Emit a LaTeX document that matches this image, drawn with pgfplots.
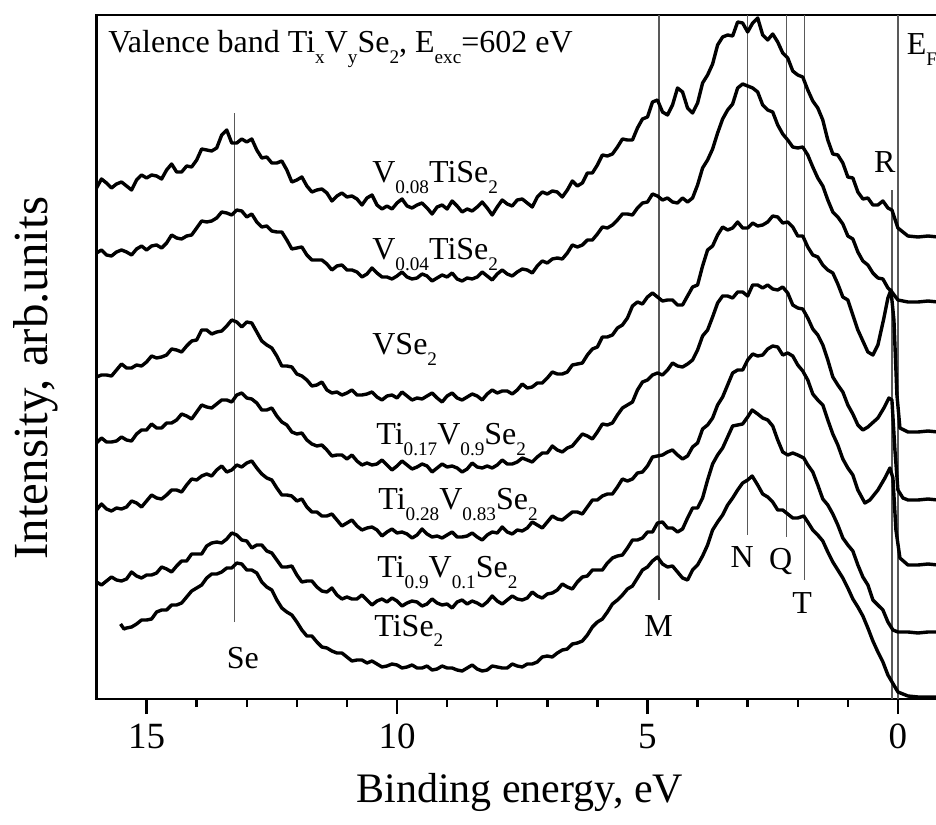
\documentclass[border=0pt]{standalone}
\usepackage{fontspec}
\setmainfont{Liberation Serif}
\usepackage{pgfplots}
\pgfplotsset{compat=1.18}
\pgfplotsset{spec/.style={black, mark=none, solid, line width=1.7pt, line join=round}}
\newcommand{\sub}[1]{\raisebox{-0.33em}{\fontsize{9.6}{9.6}\selectfont #1}}
\begin{document}
\begin{tikzpicture}
\begin{axis}[
  scale only axis, width=423.26pt, height=342pt,
  x dir=reverse, xmin=-0.9, xmax=16, ymin=0, ymax=684,
  xtick={0,5,10,15}, minor x tick num=4, xtick pos=bottom, ytick=\empty,
  tick align=outside, major tick length=7.5pt, minor tick length=4pt,
  every tick/.style={black, line width=1.2pt},
  axis line style={line width=1.3pt},
  /pgf/number format/assume math mode=true,
  xticklabel style={font=\fontsize{18.5}{18.5}\selectfont, anchor=base, yshift=-17pt},
  xlabel={Binding energy, eV}, ylabel={Intensity, arb.units},
  xlabel style={font=\fontsize{21}{21}\selectfont, at={(axis description cs:0.5,-0.152)}, anchor=base},
  ylabel style={font=\fontsize{24.5}{24.5}\selectfont, at={(axis description cs:-0.0573,0.469)}, anchor=base},
  clip=false,
]
% reference lines
\addplot[black!65, line width=0.6pt] coordinates {(13.24,77) (13.24,586)};
\addplot[black!65, line width=0.6pt] coordinates {(4.77,99) (4.77,684)};
\addplot[black!65, line width=0.6pt] coordinates {(3.01,164) (3.01,684)};
\addplot[black!65, line width=0.6pt] coordinates {(2.22,162) (2.22,684)};
\addplot[black!65, line width=0.6pt] coordinates {(1.86,119) (1.86,684)};
\addplot[black!65, line width=0.6pt] coordinates {(0.12,0) (0.12,509)};
\addplot[black!65, line width=0.6pt] coordinates {(0.0,0) (0.0,684)};
% V0.08TiSe2
\addplot[spec] coordinates {(16.0,511)(15.9,520)(15.8,516)(15.7,511)(15.6,515)(15.5,517)(15.4,513)(15.3,509)(15.2,519)(15.1,524)(15.0,521)(14.9,524)(14.8,523)(14.7,520)(14.6,529)(14.5,535)(14.4,527)(14.3,527)(14.2,533)(14.1,532)(14.0,539)(13.9,550)(13.8,549)(13.7,548)(13.6,551)(13.5,564)(13.4,569)(13.3,556)(13.2,556)(13.1,560)(13.0,557)(12.9,560)(12.8,549)(12.7,541)(12.6,542)(12.5,536)(12.4,536)(12.3,538)(12.2,529)(12.1,517)(12.0,519)(11.9,522)(11.8,513)(11.7,507)(11.6,509)(11.5,510)(11.4,506)(11.3,498)(11.2,503)(11.1,506)(11.0,502)(10.9,503)(10.8,500)(10.7,494)(10.6,501)(10.5,504)(10.4,494)(10.3,490)(10.2,493)(10.1,490)(10.0,496)(9.9,500)(9.8,493)(9.7,491)(9.6,494)(9.5,496)(9.4,491)(9.3,485)(9.2,492)(9.1,494)(9.0,490)(8.9,498)(8.8,493)(8.7,487)(8.6,490)(8.5,488)(8.4,492)(8.3,497)(8.2,491)(8.1,484)(8.0,492)(7.9,499)(7.8,495)(7.7,493)(7.6,499)(7.5,500)(7.4,496)(7.3,492)(7.2,502)(7.1,507)(7.0,505)(6.9,508)(6.8,507)(6.7,502)(6.6,509)(6.5,518)(6.4,513)(6.3,516)(6.2,526)(6.1,526)(6.0,534)(5.9,544)(5.8,543)(5.7,545)(5.6,552)(5.5,560)(5.4,559)(5.3,559)(5.2,571)(5.1,580)(5.0,582)(4.9,597)(4.8,599)(4.7,587)(4.6,584)(4.5,594)(4.4,611)(4.3,607)(4.2,591)(4.1,586)(4.0,596)(3.9,616)(3.8,624)(3.7,635)(3.6,654)(3.5,662)(3.4,664)(3.3,663)(3.2,677)(3.1,676)(3.0,667)(2.9,676)(2.8,681)(2.7,664)(2.6,659)(2.5,665)(2.4,657)(2.3,646)(2.2,641)(2.1,628)(2.0,624)(1.9,622)(1.8,609)(1.7,598)(1.6,591)(1.5,579)(1.4,559)(1.3,545)(1.2,544)(1.1,536)(1.0,522)(0.9,521)(0.8,507)(0.7,500)(0.6,501)(0.5,494)(0.4,494)(0.3,498)(0.2,491)(0.12,489)(0.0,471)(-0.2,463)(-0.4,462)(-0.6,463)(-0.8,462)};
% V0.04TiSe2
\addplot[spec] coordinates {(16.0,446)(15.9,449)(15.8,444)(15.7,443)(15.6,447)(15.5,449)(15.4,447)(15.3,444)(15.2,450)(15.1,453)(15.0,449)(14.9,453)(14.8,454)(14.7,451)(14.6,456)(14.5,464)(14.4,461)(14.3,460)(14.2,463)(14.1,464)(14.0,471)(13.9,478)(13.8,477)(13.7,478)(13.6,481)(13.5,487)(13.4,486)(13.3,484)(13.2,489)(13.1,488)(13.0,482)(12.9,485)(12.8,477)(12.7,472)(12.6,473)(12.5,468)(12.4,467)(12.3,467)(12.2,459)(12.1,450)(12.0,451)(11.9,452)(11.8,444)(11.7,439)(11.6,439)(11.5,439)(11.4,435)(11.3,429)(11.2,433)(11.1,434)(11.0,429)(10.9,429)(10.8,427)(10.7,422)(10.6,425)(10.5,431)(10.4,426)(10.3,422)(10.2,422)(10.1,420)(10.0,423)(9.9,427)(9.8,422)(9.7,420)(9.6,421)(9.5,425)(9.4,423)(9.3,418)(9.2,421)(9.1,424)(9.0,422)(8.9,426)(8.8,420)(8.7,418)(8.6,421)(8.5,420)(8.4,422)(8.3,427)(8.2,423)(8.1,419)(8.0,425)(7.9,429)(7.8,425)(7.7,423)(7.6,427)(7.5,430)(7.4,429)(7.3,426)(7.2,433)(7.1,438)(7.0,436)(6.9,440)(6.8,441)(6.7,440)(6.6,446)(6.5,454)(6.4,452)(6.3,454)(6.2,459)(6.1,459)(6.0,465)(5.9,472)(5.8,471)(5.7,474)(5.6,479)(5.5,485)(5.4,485)(5.3,484)(5.2,491)(5.1,496)(5.0,497)(4.9,505)(4.8,503)(4.7,499)(4.6,501)(4.5,497)(4.4,496)(4.3,501)(4.2,497)(4.1,501)(4.0,514)(3.9,531)(3.8,539)(3.7,550)(3.6,566)(3.5,580)(3.4,589)(3.3,595)(3.2,611)(3.1,615)(3.0,613)(2.9,611)(2.8,607)(2.7,594)(2.6,589)(2.5,587)(2.4,574)(2.3,565)(2.2,559)(2.1,552)(2.0,551)(1.9,552)(1.8,544)(1.7,532)(1.6,521)(1.5,513)(1.4,499)(1.3,487)(1.2,482)(1.1,475)(1.0,463)(0.9,460)(0.8,447)(0.7,438)(0.6,434)(0.5,426)(0.4,421)(0.3,420)(0.2,411)(0.12,407)(0.0,399)(-0.2,397)(-0.4,397)(-0.6,398)(-0.8,397)};
% VSe2
\addplot[spec] coordinates {(16.0,322)(15.9,324)(15.8,324)(15.7,323)(15.6,329)(15.5,335)(15.4,331)(15.3,331)(15.2,334)(15.1,333)(15.0,337)(14.9,343)(14.8,341)(14.7,342)(14.6,344)(14.5,350)(14.4,349)(14.3,347)(14.2,353)(14.1,358)(14.0,359)(13.9,369)(13.8,369)(13.7,365)(13.6,367)(13.5,368)(13.4,373)(13.3,379)(13.2,377)(13.1,372)(13.0,377)(12.9,376)(12.8,367)(12.7,358)(12.6,354)(12.5,351)(12.4,343)(12.3,333)(12.2,333)(12.1,332)(12.0,325)(11.9,323)(11.8,319)(11.7,313)(11.6,314)(11.5,317)(11.4,309)(11.3,306)(11.2,307)(11.1,304)(11.0,306)(10.9,309)(10.8,304)(10.7,304)(10.6,305)(10.5,307)(10.4,302)(10.3,299)(10.2,303)(10.1,304)(10.0,301)(9.9,307)(9.8,303)(9.7,299)(9.6,301)(9.5,300)(9.4,303)(9.3,306)(9.2,301)(9.1,297)(9.0,303)(8.9,306)(8.8,301)(8.7,299)(8.6,302)(8.5,305)(8.4,303)(8.3,299)(8.2,305)(8.1,309)(8.0,306)(7.9,308)(7.8,308)(7.7,305)(7.6,309)(7.5,315)(7.4,311)(7.3,312)(7.2,316)(7.1,316)(7.0,321)(6.9,327)(6.8,325)(6.7,325)(6.6,327)(6.5,334)(6.4,335)(6.3,336)(6.2,344)(6.1,350)(6.0,352)(5.9,362)(5.8,362)(5.7,364)(5.6,371)(5.5,374)(5.4,381)(5.3,393)(5.2,397)(5.1,395)(5.0,402)(4.9,406)(4.8,402)(4.7,398)(4.6,399)(4.5,399)(4.4,394)(4.3,394)(4.2,403)(4.1,412)(4.0,414)(3.9,433)(3.8,449)(3.7,453)(3.6,464)(3.5,472)(3.4,469)(3.3,471)(3.2,477)(3.1,471)(3.0,471)(2.9,476)(2.8,473)(2.7,474)(2.6,477)(2.5,483)(2.4,482)(2.3,476)(2.2,477)(2.1,472)(2.0,463)(1.9,463)(1.8,452)(1.7,444)(1.6,442)(1.5,434)(1.4,429)(1.3,426)(1.2,415)(1.1,402)(1.0,399)(0.8,369)(0.6,347)(0.5,344)(0.4,354)(0.28,381)(0.2,401)(0.14,409)(0.08,379)(0.02,304)(-0.04,271)(-0.2,267)(-0.4,267)(-0.6,268)(-0.8,267)};
% Ti0.17V0.9Se2
\addplot[spec] coordinates {(16.0,256)(15.9,261)(15.8,257)(15.7,257)(15.6,258)(15.5,262)(15.4,259)(15.3,258)(15.2,265)(15.1,269)(15.0,269)(14.9,275)(14.8,271)(14.7,271)(14.6,276)(14.5,276)(14.4,279)(14.3,285)(14.2,283)(14.1,280)(14.0,287)(13.9,294)(13.8,292)(13.7,291)(13.6,295)(13.5,299)(13.4,299)(13.3,297)(13.2,304)(13.1,306)(13.0,301)(12.9,300)(12.8,296)(12.7,289)(12.6,289)(12.5,291)(12.4,283)(12.3,277)(12.2,274)(12.1,267)(12.0,265)(11.9,266)(11.8,259)(11.7,255)(11.6,253)(11.5,254)(11.4,249)(11.3,243)(11.2,244)(11.1,244)(11.0,240)(10.9,244)(10.8,238)(10.7,234)(10.6,236)(10.5,234)(10.4,235)(10.3,239)(10.2,234)(10.1,229)(10.0,233)(9.9,238)(9.8,234)(9.7,230)(9.6,232)(9.5,235)(9.4,233)(9.3,227)(9.2,231)(9.1,235)(9.0,232)(8.9,233)(8.8,231)(8.7,227)(8.6,230)(8.5,236)(8.4,232)(8.3,231)(8.2,233)(8.1,231)(8.0,234)(7.9,239)(7.8,235)(7.7,235)(7.6,237)(7.5,241)(7.4,239)(7.3,237)(7.2,242)(7.1,246)(7.0,246)(6.9,253)(6.8,249)(6.7,247)(6.6,251)(6.5,253)(6.4,259)(6.3,265)(6.2,263)(6.1,260)(6.0,267)(5.9,275)(5.8,274)(5.7,276)(5.6,284)(5.5,291)(5.4,294)(5.3,297)(5.2,309)(5.1,317)(5.0,319)(4.9,324)(4.8,326)(4.7,324)(4.6,329)(4.5,336)(4.4,333)(4.3,332)(4.2,335)(4.1,339)(4.0,349)(3.9,363)(3.8,369)(3.7,382)(3.6,396)(3.5,403)(3.4,403)(3.3,401)(3.2,407)(3.1,407)(3.0,403)(2.9,414)(2.8,414)(2.7,411)(2.6,414)(2.5,410)(2.4,409)(2.3,412)(2.2,406)(2.1,394)(2.0,391)(1.9,390)(1.8,381)(1.7,370)(1.6,364)(1.5,354)(1.4,339)(1.3,322)(1.2,314)(1.1,307)(1.0,294)(0.9,285)(0.8,274)(0.7,269)(0.6,272)(0.4,281)(0.28,291)(0.18,301)(0.12,299)(0.06,249)(0.0,209)(-0.1,201)(-0.2,199)(-0.4,199)(-0.6,200)(-0.8,199)};
% Ti0.28V0.83Se2
\addplot[spec] coordinates {(16.0,189)(15.9,195)(15.8,190)(15.7,188)(15.6,191)(15.5,190)(15.4,192)(15.3,198)(15.2,196)(15.1,192)(15.0,198)(14.9,204)(14.8,201)(14.7,200)(14.6,204)(14.5,209)(14.4,209)(14.3,207)(14.2,214)(14.1,220)(14.0,219)(13.9,223)(13.8,225)(13.7,223)(13.6,229)(13.5,233)(13.4,227)(13.3,229)(13.2,234)(13.1,232)(13.0,236)(12.9,238)(12.8,231)(12.7,225)(12.6,221)(12.5,219)(12.4,211)(12.3,204)(12.2,204)(12.1,203)(12.0,198)(11.9,200)(11.8,192)(11.7,187)(11.6,187)(11.5,183)(11.4,183)(11.3,185)(11.2,179)(11.1,173)(11.0,176)(10.9,179)(10.8,173)(10.7,169)(10.6,171)(10.5,172)(10.4,169)(10.3,163)(10.2,167)(10.1,170)(10.0,166)(9.9,167)(9.8,165)(9.7,161)(9.6,164)(9.5,170)(9.4,165)(9.3,162)(9.2,163)(9.1,161)(9.0,164)(8.9,167)(8.8,162)(8.7,162)(8.6,163)(8.5,166)(8.4,162)(8.3,159)(8.2,164)(8.1,167)(8.0,166)(7.9,172)(7.8,167)(7.7,165)(7.6,169)(7.5,168)(7.4,171)(7.3,177)(7.2,174)(7.1,171)(7.0,177)(6.9,183)(6.8,180)(6.7,179)(6.6,183)(6.5,187)(6.4,187)(6.3,185)(6.2,192)(6.1,199)(6.0,199)(5.9,203)(5.8,205)(5.7,205)(5.6,212)(5.5,220)(5.4,218)(5.3,220)(5.2,226)(5.1,227)(5.0,233)(4.9,242)(4.8,243)(4.7,244)(4.6,247)(4.5,249)(4.4,244)(4.3,240)(4.2,243)(4.1,252)(4.0,256)(3.9,270)(3.8,274)(3.7,281)(3.6,294)(3.5,302)(3.4,314)(3.3,326)(3.2,329)(3.1,329)(3.0,339)(2.9,345)(2.8,343)(2.7,344)(2.6,350)(2.5,353)(2.4,352)(2.3,344)(2.2,346)(2.1,343)(2.0,334)(1.9,328)(1.8,319)(1.7,305)(1.6,299)(1.5,294)(1.4,279)(1.3,265)(1.2,254)(1.1,240)(1.0,231)(0.9,224)(0.8,209)(0.66,196)(0.56,199)(0.4,209)(0.26,221)(0.16,231)(0.1,221)(0.04,169)(-0.04,141)(-0.2,134)(-0.4,134)(-0.6,135)(-0.8,134)};
% Ti0.9V0.1Se2
\addplot[spec] coordinates {(16.0,117)(15.9,114)(15.8,118)(15.7,122)(15.6,119)(15.5,118)(15.4,120)(15.3,127)(15.2,123)(15.1,121)(15.0,124)(14.9,124)(14.8,126)(14.7,132)(14.6,130)(14.5,127)(14.4,133)(14.3,138)(14.2,138)(14.1,145)(14.0,145)(13.9,145)(13.8,153)(13.7,156)(13.6,157)(13.5,156)(13.4,160)(13.3,166)(13.2,164)(13.1,159)(13.0,158)(12.9,151)(12.8,154)(12.7,154)(12.6,148)(12.5,146)(12.4,139)(12.3,132)(12.2,132)(12.1,133)(12.0,124)(11.9,117)(11.8,118)(11.7,118)(11.6,112)(11.5,108)(11.4,107)(11.3,111)(11.2,104)(11.1,100)(11.0,102)(10.9,100)(10.8,100)(10.7,104)(10.6,99)(10.5,94)(10.4,98)(10.3,100)(10.2,97)(10.1,101)(10.0,98)(9.9,93)(9.8,96)(9.7,98)(9.6,97)(9.5,93)(9.4,95)(9.3,100)(9.2,96)(9.1,94)(9.0,95)(8.9,91)(8.8,97)(8.7,99)(8.6,95)(8.5,98)(8.4,96)(8.3,93)(8.2,97)(8.1,103)(8.0,98)(7.9,95)(7.8,99)(7.7,103)(7.6,100)(7.5,99)(7.4,101)(7.3,107)(7.2,103)(7.1,101)(7.0,105)(6.9,106)(6.8,109)(6.7,115)(6.6,112)(6.5,110)(6.4,117)(6.3,122)(6.2,123)(6.1,129)(6.0,129)(5.9,129)(5.8,136)(5.7,141)(5.6,143)(5.5,144)(5.4,151)(5.3,159)(5.2,159)(5.1,161)(5.0,167)(4.9,167)(4.8,176)(4.7,177)(4.6,171)(4.5,171)(4.4,167)(4.3,170)(4.2,181)(4.1,191)(4.0,191)(3.9,201)(3.8,219)(3.7,235)(3.6,244)(3.5,251)(3.4,262)(3.3,273)(3.2,274)(3.1,275)(3.0,282)(2.91,289)(2.8,285)(2.7,281)(2.6,279)(2.5,273)(2.4,259)(2.3,247)(2.2,244)(2.1,246)(2.0,244)(1.88,241)(1.8,234)(1.7,227)(1.6,214)(1.5,200)(1.4,194)(1.3,185)(1.2,174)(1.1,161)(1.0,154)(0.9,148)(0.8,134)(0.7,122)(0.6,114)(0.5,99)(0.4,94)(0.3,89)(0.2,77)(0.1,69)(0.0,67)(-0.2,67)(-0.4,66)(-0.6,67)(-0.8,67)};
% TiSe2
\addplot[spec] coordinates {(15.52,75)(15.45,70)(15.4,71)(15.3,72)(15.2,75)(15.1,79)(15.0,79)(14.9,80)(14.8,87)(14.7,89)(14.6,89)(14.5,94)(14.4,94)(14.3,96)(14.2,102)(14.1,108)(14.0,111)(13.9,114)(13.8,121)(13.7,125)(13.6,125)(13.5,127)(13.4,131)(13.3,131)(13.2,136)(13.1,135)(13.0,129)(12.9,129)(12.8,126)(12.7,117)(12.6,112)(12.5,109)(12.4,99)(12.3,91)(12.2,87)(12.1,84)(12.0,77)(11.9,69)(11.8,63)(11.7,63)(11.6,57)(11.5,52)(11.4,51)(11.3,48)(11.2,46)(11.1,46)(11.0,42)(10.9,38)(10.8,39)(10.7,39)(10.6,36)(10.5,38)(10.4,35)(10.3,32)(10.2,33)(10.1,35)(10.0,34)(9.9,31)(9.8,32)(9.7,34)(9.6,31)(9.5,31)(9.4,33)(9.3,29)(9.2,30)(9.1,33)(9.0,31)(8.9,31)(8.8,29)(8.7,28)(8.6,31)(8.5,34)(8.4,30)(8.3,28)(8.2,29)(8.1,33)(8.0,32)(7.9,31)(7.8,31)(7.7,35)(7.6,33)(7.5,32)(7.4,35)(7.3,35)(7.2,37)(7.1,42)(7.0,43)(6.9,42)(6.8,46)(6.7,49)(6.6,50)(6.5,55)(6.4,56)(6.3,58)(6.2,64)(6.1,72)(6.0,77)(5.9,80)(5.8,87)(5.7,95)(5.6,99)(5.5,104)(5.4,110)(5.3,113)(5.2,121)(5.1,129)(5.0,132)(4.9,138)(4.8,142)(4.7,135)(4.6,132)(4.5,133)(4.4,127)(4.3,121)(4.2,119)(4.1,129)(4.0,134)(3.9,143)(3.8,154)(3.7,169)(3.6,177)(3.5,184)(3.4,194)(3.3,201)(3.2,209)(3.1,216)(3.0,219)(2.91,223)(2.8,214)(2.7,205)(2.6,202)(2.5,197)(2.4,189)(2.3,189)(2.2,185)(2.1,181)(2.0,181)(1.88,183)(1.8,177)(1.7,169)(1.6,164)(1.5,158)(1.4,147)(1.3,137)(1.2,129)(1.1,121)(1.0,111)(0.9,100)(0.8,92)(0.7,83)(0.6,71)(0.5,58)(0.4,47)(0.3,37)(0.2,24)(0.0,7)(-0.2,3)(-0.4,2)(-0.6,2)(-0.8,2)};
% texts
\begin{scope}[every node/.style={inner sep=0pt, font=\fontsize{16}{16}\selectfont}]
\node[anchor=base west] at (axis cs:15.77,646) {Valence band Ti\sub{x}V\sub{y}Se\sub{2}, E\sub{exc}=602 eV};
\node[anchor=base west] at (axis cs:-0.17,644) {E\sub{F}};
\node[anchor=base west] at (axis cs:10.50,516) {V\sub{0.08}TiSe\sub{2}};
\node[anchor=base west] at (axis cs:10.50,439) {V\sub{0.04}TiSe\sub{2}};
\node[anchor=base west] at (axis cs:10.50,344) {VSe\sub{2}};
\node[anchor=base west] at (axis cs:10.42,254) {Ti\sub{0.17}V\sub{0.9}Se\sub{2}};
\node[anchor=base west] at (axis cs:10.38,189) {Ti\sub{0.28}V\sub{0.83}Se\sub{2}};
\node[anchor=base west] at (axis cs:10.40,121) {Ti\sub{0.9}V\sub{0.1}Se\sub{2}};
\node[anchor=base west] at (axis cs:10.46,63) {TiSe\sub{2}};
\node[anchor=base] at (axis cs:13.08,31) {Se};
\node[anchor=base] at (axis cs:4.78,62) {M};
\node[anchor=base] at (axis cs:3.11,131) {N};
\node[anchor=base] at (axis cs:2.34,129) {Q};
\node[anchor=base] at (axis cs:1.91,86) {T};
\node[anchor=base] at (axis cs:0.26,526) {R};
\end{scope}
\end{axis}
\pgfresetboundingbox
\useasboundingbox (-48.25pt,-62.5pt) rectangle (419.75pt,349.5pt);
\end{tikzpicture}
\end{document}
